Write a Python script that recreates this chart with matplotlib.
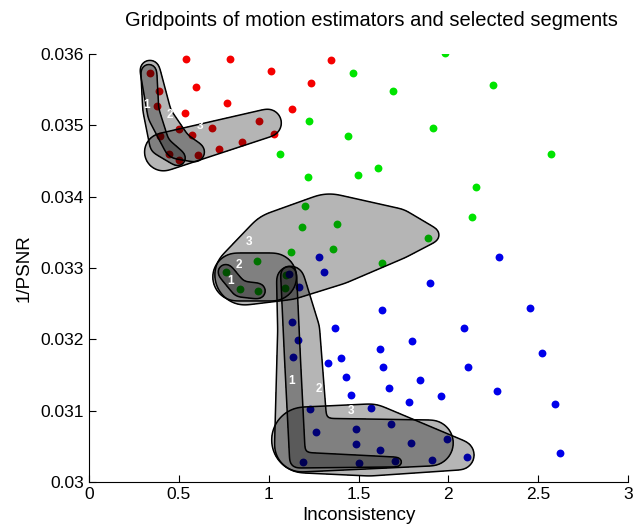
import numpy as np
import matplotlib
matplotlib.use("Agg")
import matplotlib.pyplot as plt

plt.rcParams['font.family'] = ['Liberation Sans', 'DejaVu Sans']

# gridpoints (Inconsistency, 1/PSNR)
red_x = [0.339, 0.389, 0.379, 0.394, 0.446, 0.502, 0.607, 0.500, 0.574, 0.683, 0.721, 0.852,
         0.944, 1.029, 0.533, 0.768, 0.596, 0.539, 0.785, 1.011, 1.132, 1.237, 1.346]
red_y = [0.03573, 0.035486, 0.035275, 0.034855, 0.034594, 0.034514, 0.034584, 0.034949, 0.03486,
         0.034963, 0.034664, 0.034766, 0.035057, 0.034883, 0.035169, 0.035309, 0.035537, 0.03593,
         0.03593, 0.035762, 0.035233, 0.035589, 0.03592]

green_x = [1.983, 1.472, 1.694, 2.246, 1.224, 1.443, 1.915, 2.572, 1.063, 1.217, 1.498, 1.608,
           2.152, 2.133, 1.200, 1.379, 1.187, 1.886, 1.124, 1.357, 1.631, 0.937, 0.761, 0.839,
           0.940, 1.093, 1.094]
green_y = [0.036014, 0.03573, 0.035486, 0.035561, 0.035061, 0.034852, 0.034964, 0.034602, 0.034598,
           0.034272, 0.034304, 0.034402, 0.034136, 0.033715, 0.033865, 0.033617, 0.033575, 0.033421,
           0.033224, 0.033262, 0.033077, 0.033105, 0.032944, 0.032699, 0.032675, 0.032724, 0.032902]

blue_x = [1.278, 1.307, 1.111, 1.167, 2.282, 1.898, 1.629, 2.454, 1.128, 1.371, 2.085, 1.161,
          1.800, 1.621, 2.522, 1.133, 1.404, 1.332, 1.635, 2.109, 1.433, 1.841, 1.667, 2.272,
          1.457, 1.957, 1.782, 2.591, 1.232, 1.572, 1.265, 1.485, 1.683, 1.485, 1.794, 1.618,
          1.994, 1.189, 1.504, 1.704, 1.907, 2.106, 2.624]
blue_y = [0.033158, 0.03294, 0.032912, 0.032738, 0.03315, 0.03279, 0.032415, 0.032439, 0.032247,
          0.032163, 0.032163, 0.031986, 0.031981, 0.031865, 0.031804, 0.031757, 0.031743, 0.031664,
          0.031612, 0.031608, 0.031468, 0.031434, 0.031318, 0.031276, 0.031215, 0.03121, 0.031126,
          0.031098, 0.031019, 0.031042, 0.030701, 0.030743, 0.030809, 0.030529, 0.030551, 0.030449,
          0.030607, 0.030276, 0.030266, 0.03029, 0.030313, 0.030346, 0.030411]

# selected segments: spine points in data units, half-width in pixels
seg_spines = {
    'r1': ([0.333, 0.344, 0.394, 0.494], [0.035748, 0.035215, 0.034724, 0.034542], [8, 8, 10, 8]),
    'r2': ([0.339, 0.394, 0.494, 0.589], [0.035776, 0.035145, 0.034724, 0.034626], [10, 12, 14, 10]),
    'r3': ([0.414, 0.994], [0.034626, 0.035033], [19, 14]),
    'g1': ([0.761, 0.839, 0.939], [0.032944, 0.032706, 0.032678], [8, 8, 8]),
    'g2': ([0.822, 1.022], [0.032874, 0.032874], [24, 24]),
    'g3': ([0.867, 1.089, 1.339, 1.700, 1.906],
           [0.032902, 0.033182, 0.033393, 0.033477, 0.033463], [30, 45, 46, 26, 8]),
    'b1': ([1.111, 1.133, 1.161, 1.717], [0.032916, 0.03171, 0.030308, 0.03028], [8, 8, 8, 5]),
    'b2': ([1.122, 1.167, 1.183, 1.900], [0.032832, 0.032131, 0.030519, 0.030547], [14, 21, 27, 23]),
    'b3': ([1.200, 1.561, 2.061], [0.030589, 0.030589, 0.030379], [33, 36, 15]),
}

# segment number labels
lab_text = ['1', '2', '3', '1', '2', '3', '1', '2', '3']
lab_x = [0.322, 0.450, 0.617, 0.789, 0.833, 0.889, 1.128, 1.278, 1.461]
lab_y = [0.035290, 0.035150, 0.034995, 0.032817, 0.033042, 0.033365, 0.031416, 0.031304, 0.030995]


def blur(a, n):
    k = np.ones(n) / n
    p = np.pad(a, n, mode='edge')
    p = np.apply_along_axis(lambda m: np.convolve(m, k, mode='same'), 0, p)
    p = np.apply_along_axis(lambda m: np.convolve(m, k, mode='same'), 1, p)
    return p[n:-n, n:-n]


fig = plt.figure(figsize=(6.38, 5.3), dpi=100)
ax = fig.add_axes([89 / 638, 48 / 530, 539 / 638, 428 / 530])
ax.set_xlim(0, 3)
ax.set_ylim(0.03, 0.036)

ax.scatter(red_x, red_y, s=32, color='#f50000', zorder=1, linewidths=0)
ax.scatter(green_x, green_y, s=32, color='#00e400', zorder=1, linewidths=0)
ax.scatter(blue_x, blue_y, s=32, color='#0000ea', zorder=1, linewidths=0)

# each blob = union of discs swept along the spine, then softened
gx, gy = np.meshgrid(np.linspace(0, 3, 540), np.linspace(0.03, 0.036, 430))
pts = ax.transData.transform(np.column_stack([gx.ravel(), gy.ravel()]))
px = pts[:, 0].reshape(gx.shape)
py = pts[:, 1].reshape(gx.shape)

for key, (sx, sy, sr) in seg_spines.items():
    sp = ax.transData.transform(np.column_stack([sx, sy]))
    field = np.full(gx.shape, 1e6)
    for i in range(len(sp) - 1):
        for t in np.linspace(0, 1, 40):
            cx = sp[i, 0] + t * (sp[i + 1, 0] - sp[i, 0])
            cy = sp[i, 1] + t * (sp[i + 1, 1] - sp[i, 1])
            r = sr[i] + t * (sr[i + 1] - sr[i])
            field = np.minimum(field, np.hypot(px - cx, py - cy) - r)
    field = blur(blur(field, 7), 7)
    ax.contourf(gx, gy, field, levels=[-1e9, 0], colors=['black'], alpha=0.29, zorder=2)
    ax.contour(gx, gy, field, levels=[0], colors=['black'], linewidths=1.1, zorder=3)

for t, x, y in zip(lab_text, lab_x, lab_y):
    ax.text(x, y, t, color='white', fontsize=8.5, fontweight='bold', ha='center', va='center', zorder=4)

ax.spines['top'].set_visible(False)
ax.spines['right'].set_visible(False)
ax.set_xticks([0, 0.5, 1, 1.5, 2, 2.5, 3])
ax.set_xticklabels(['0', '0.5', '1', '1.5', '2', '2.5', '3'])
ax.set_yticks([0.03, 0.031, 0.032, 0.033, 0.034, 0.035, 0.036])
ax.set_yticklabels(['0.03', '0.031', '0.032', '0.033', '0.034', '0.035', '0.036'])
ax.tick_params(direction='in', length=5, labelsize=12.5)
ax.set_xlabel('Inconsistency', fontsize=13.5, labelpad=4)
ax.set_ylabel('1/PSNR', fontsize=13.5, labelpad=6)
fig.text(371 / 638, 1 - 20 / 530, 'Gridpoints of motion estimators and selected segments',
         fontsize=14.5, ha='center', va='center')

fig.savefig('out.png', dpi=100)
